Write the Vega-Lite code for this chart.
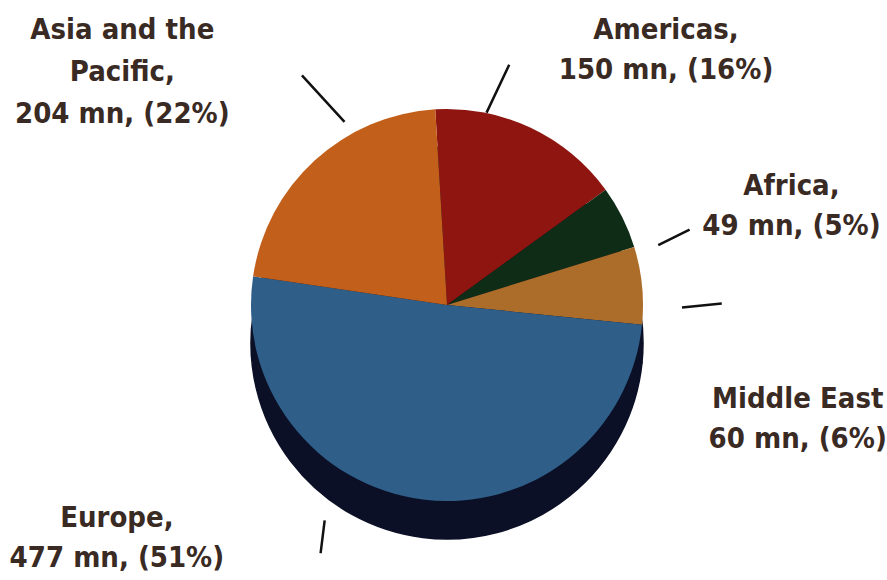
{
  "$schema": "https://vega.github.io/schema/vega-lite/v6.json",
  "autosize": "none",
  "width": 880,
  "height": 550,
  "padding": {"left": 7, "top": 30, "right": 0, "bottom": 0},
  "background": "white",
  "config": {"view": {"stroke": null}},
  "data": {
    "values": [
      {"region": "Americas", "mn": 150, "label": ["Americas,", "150 mn, (16%)"]},
      {"region": "Africa", "mn": 49, "label": ["Africa,", "49 mn, (5%)"]},
      {"region": "Middle East", "mn": 60, "label": ["Middle East", "60 mn, (6%)"]},
      {"region": "Europe", "mn": 477, "label": ["Europe,", "477 mn, (51%)"]},
      {"region": "Asia and the Pacific", "mn": 204, "label": ["Asia and the", "Pacific,", "204 mn, (22%)"]}
    ]
  },
  "transform": [
    {"stack": "mn", "groupby": [], "as": ["t0", "t1"]},
    {"calculate": "(datum.t0 + datum.t1) / 2", "as": "tm"}
  ],
  "layer": [
    {
      "mark": {"type": "arc", "radius": 196, "fill": "#0b1026", "stroke": "#0b1026", "strokeWidth": 1.5, "yOffset": 38},
      "encoding": {
        "theta": {"field": "t1", "type": "quantitative", "stack": null, "scale": {"zero": true, "nice": false, "range": [-0.06, 6.2232]}},
        "theta2": {"field": "t0"}
      }
    },
    {
      "mark": {"type": "arc", "radius": 196},
      "encoding": {
        "theta": {"field": "t1", "type": "quantitative", "stack": null},
        "theta2": {"field": "t0"},
        "color": {
          "field": "region",
          "type": "nominal",
          "scale": {
            "domain": ["Americas", "Africa", "Middle East", "Europe", "Asia and the Pacific"],
            "range": ["#8e1510", "#0f2c16", "#ad6d2a", "#2f5e89", "#c2601b"]
          },
          "legend": null
        }
      }
    },
    {
      "transform": [{"filter": "datum.region === 'Americas'"}],
      "mark": {"type": "arc", "radius": 205, "radius2": 258, "xOffset": -48, "yOffset": -7, "stroke": "#111111", "strokeWidth": 2.5, "fill": null},
      "encoding": {"theta": {"field": "tm", "type": "quantitative", "stack": null}, "theta2": {"field": "tm"}}
    },
    {
      "transform": [{"filter": "datum.region === 'Africa'"}],
      "mark": {"type": "arc", "radius": 205, "radius2": 240, "xOffset": 28, "yOffset": 32, "stroke": "#111111", "strokeWidth": 2.5, "fill": null},
      "encoding": {"theta": {"field": "tm", "type": "quantitative", "stack": null}, "theta2": {"field": "tm"}}
    },
    {
      "transform": [{"filter": "datum.region === 'Middle East'"}],
      "mark": {"type": "arc", "radius": 205, "radius2": 245, "xOffset": 31, "yOffset": 23, "stroke": "#111111", "strokeWidth": 2.5, "fill": null},
      "encoding": {"theta": {"field": "tm", "type": "quantitative", "stack": null}, "theta2": {"field": "tm"}}
    },
    {
      "transform": [{"filter": "datum.region === 'Europe'"}],
      "mark": {"type": "arc", "radius": 205, "radius2": 238, "xOffset": -97, "yOffset": 12, "stroke": "#111111", "strokeWidth": 2.5, "fill": null},
      "encoding": {"theta": {"field": "tm", "type": "quantitative", "stack": null}, "theta2": {"field": "tm"}}
    },
    {
      "transform": [{"filter": "datum.region === 'Asia and the Pacific'"}],
      "mark": {"type": "arc", "radius": 205, "radius2": 268, "xOffset": 36, "yOffset": -32, "stroke": "#111111", "strokeWidth": 2.5, "fill": null},
      "encoding": {"theta": {"field": "tm", "type": "quantitative", "stack": null}, "theta2": {"field": "tm"}}
    },
    {
      "transform": [{"filter": "datum.region === 'Americas'"}],
      "mark": {"type": "text", "radius": 260, "dx": 108, "dy": -40, "align": "center", "baseline": "middle", "fontSize": 29, "lineHeight": 40, "fontWeight": "bold", "font": "DejaVu Sans Condensed, sans-serif", "fill": "#3a2a24"},
      "encoding": {"theta": {"field": "tm", "type": "quantitative", "stack": null}, "text": {"field": "label"}}
    },
    {
      "transform": [{"filter": "datum.region === 'Africa'"}],
      "mark": {"type": "text", "radius": 260, "dx": 112, "dy": -3, "align": "center", "baseline": "middle", "fontSize": 29, "lineHeight": 40, "fontWeight": "bold", "font": "DejaVu Sans Condensed, sans-serif", "fill": "#3a2a24"},
      "encoding": {"theta": {"field": "tm", "type": "quantitative", "stack": null}, "text": {"field": "label"}}
    },
    {
      "transform": [{"filter": "datum.region === 'Middle East'"}],
      "mark": {"type": "text", "radius": 260, "dx": 92, "dy": 120, "align": "center", "baseline": "middle", "fontSize": 29, "lineHeight": 40, "fontWeight": "bold", "font": "DejaVu Sans Condensed, sans-serif", "fill": "#3a2a24"},
      "encoding": {"theta": {"field": "tm", "type": "quantitative", "stack": null}, "text": {"field": "label"}}
    },
    {
      "transform": [{"filter": "datum.region === 'Europe'"}],
      "mark": {"type": "text", "radius": 260, "dx": -298, "dy": -45, "align": "center", "baseline": "middle", "fontSize": 29, "lineHeight": 40, "fontWeight": "bold", "font": "DejaVu Sans Condensed, sans-serif", "fill": "#3a2a24"},
      "encoding": {"theta": {"field": "tm", "type": "quantitative", "stack": null}, "text": {"field": "label"}}
    },
    {
      "transform": [{"filter": "datum.region === 'Asia and the Pacific'"}],
      "mark": {"type": "text", "radius": 260, "dx": -149, "dy": -83, "align": "center", "baseline": "middle", "fontSize": 29, "lineHeight": 42, "fontWeight": "bold", "font": "DejaVu Sans Condensed, sans-serif", "fill": "#3a2a24"},
      "encoding": {"theta": {"field": "tm", "type": "quantitative", "stack": null}, "text": {"field": "label"}}
    }
  ]
}
